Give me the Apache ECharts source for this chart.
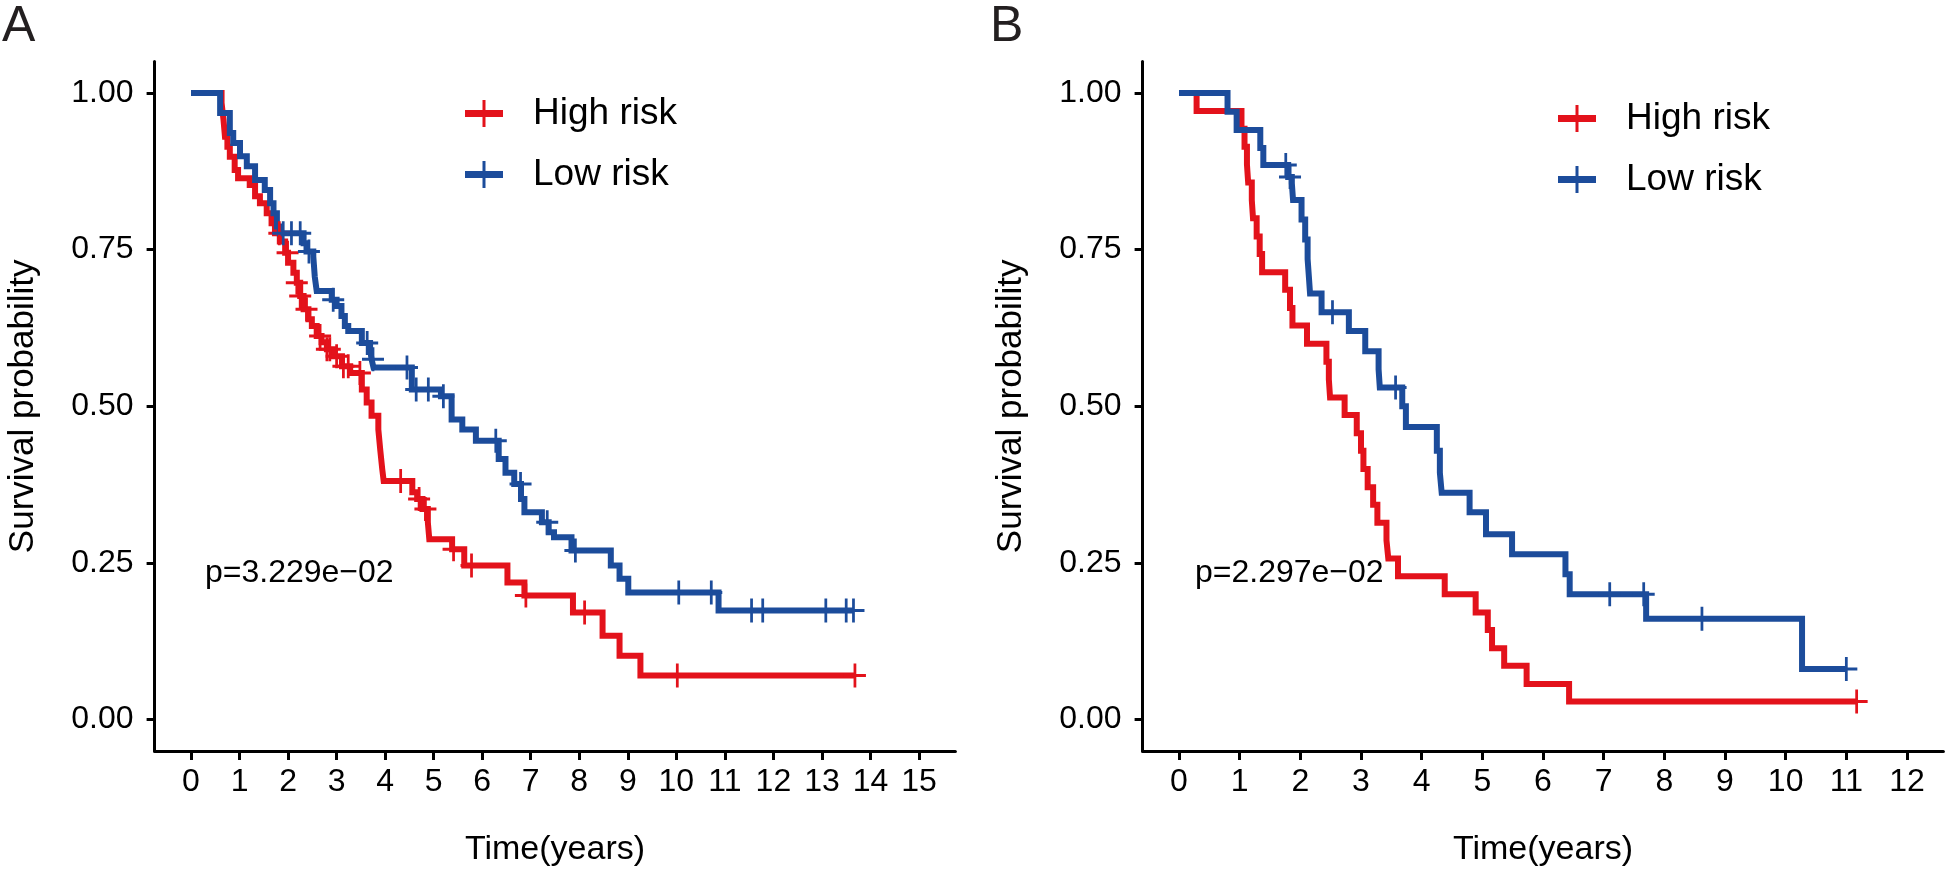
<!DOCTYPE html>
<html>
<head>
<meta charset="utf-8">
<script src="https://cdn.jsdelivr.net/npm/echarts@6/dist/echarts.min.js"></script>
<style>
html,body{margin:0;padding:0;background:#fff;}
#chart{width:1946px;height:872px;}
</style>
</head>
<body>
<div id="chart"></div>
<script>
// ---------- data ----------
const seriesNames = ['High risk', 'Low risk'];
const panelLetters = ['A', 'B'];
const pValues = ['p=3.229e\u221202', 'p=2.297e\u221202'];
const yTicks = [0, 0.25, 0.5, 0.75, 1];
const xTicksA = [0,1,2,3,4,5,6,7,8,9,10,11,12,13,14,15];
const xTicksB = [0,1,2,3,4,5,6,7,8,9,10,11,12];

// Panel A, High risk: [time (years), survival]
const highA = [
  [0,1],[0.63,0.984],[0.67,0.957],[0.70,0.93],[0.75,0.914],[0.80,0.898],[0.90,0.877],
  [0.97,0.864],[1.21,0.853],[1.32,0.835],[1.42,0.824],[1.56,0.808],[1.66,0.792],
  [1.73,0.776],[1.83,0.763],[1.94,0.745],[2.00,0.729],[2.11,0.713],[2.18,0.697],
  [2.25,0.676],[2.32,0.655],[2.42,0.639],[2.49,0.628],[2.59,0.612],[2.69,0.602],
  [2.80,0.591],[2.93,0.580],[3.11,0.564],[3.28,0.553],[3.52,0.527],[3.62,0.506],
  [3.72,0.485],[3.86,0.463],[3.90,0.43],[3.94,0.40],[3.97,0.381],[4.56,0.363],
  [4.66,0.352],[4.77,0.336],[4.88,0.315],[4.91,0.288],[5.38,0.272],[5.63,0.246],
  [6.52,0.219],[6.87,0.198],[7.87,0.171],[8.48,0.134],[8.83,0.102],[9.26,0.0705],
  [13.68,0.0705]
];
const highACensor = [1.82,1.99,2.18,2.25,2.38,2.66,2.80,2.86,3.00,3.14,3.24,3.48,
  4.32,4.70,4.83,5.41,5.78,6.90,8.11,10.02,13.68];

// Panel A, Low risk
const lowA = [
  [0,1],[0.60,0.968],[0.80,0.936],[0.87,0.92],[1.01,0.899],[1.15,0.883],[1.32,0.861],
  [1.52,0.845],[1.63,0.824],[1.70,0.808],[1.77,0.787],[1.83,0.776],[2.32,0.76],
  [2.38,0.747],[2.52,0.739],[2.55,0.707],[2.59,0.684],[2.90,0.670],[3.00,0.66],
  [3.10,0.644],[3.17,0.628],[3.24,0.62],[3.52,0.601],[3.69,0.591],[3.72,0.575],
  [3.76,0.562],[4.55,0.527],[5.15,0.516],[5.37,0.479],[5.59,0.463],[5.87,0.445],
  [6.34,0.416],[6.48,0.394],[6.66,0.376],[6.80,0.352],[6.87,0.331],[7.23,0.315],
  [7.37,0.299],[7.48,0.291],[7.84,0.27],[8.65,0.246],[8.83,0.225],[9.01,0.203],
  [10.87,0.174],[13.65,0.174]
];
const lowACensor = [1.90,2.07,2.25,2.43,2.93,3.63,3.75,4.45,4.64,4.89,5.20,6.28,
  6.79,7.34,7.92,10.05,10.72,11.55,11.78,13.08,13.5,13.65];

// Panel B, High risk
const highB = [
  [0,1],[0.29,0.971],[1.03,0.943],[1.08,0.914],[1.12,0.886],[1.14,0.857],[1.20,0.829],
  [1.22,0.800],[1.28,0.771],[1.33,0.743],[1.37,0.714],[1.75,0.686],[1.83,0.657],
  [1.87,0.629],[2.11,0.600],[2.43,0.571],[2.47,0.543],[2.49,0.514],[2.73,0.486],
  [2.93,0.457],[3.00,0.429],[3.04,0.400],[3.11,0.371],[3.20,0.343],[3.27,0.314],
  [3.42,0.286],[3.45,0.257],[3.61,0.229],[4.38,0.200],[4.89,0.171],[5.09,0.143],
  [5.16,0.114],[5.36,0.086],[5.73,0.057],[6.43,0.029],[11.17,0.029]
];
const highBCensor = [11.17];

// Panel B, Low risk
const lowB = [
  [0,1],[0.80,0.970],[0.95,0.941],[1.34,0.912],[1.39,0.885],[1.80,0.866],[1.86,0.856],
  [1.88,0.829],[2.02,0.798],[2.08,0.766],[2.12,0.735],[2.14,0.708],[2.16,0.680],
  [2.35,0.650],[2.80,0.620],[3.07,0.588],[3.29,0.559],[3.31,0.530],[3.68,0.500],
  [3.74,0.467],[4.25,0.429],[4.30,0.394],[4.33,0.362],[4.79,0.331],[5.06,0.296],
  [5.49,0.264],[6.37,0.232],[6.44,0.200],[7.70,0.161],[10.27,0.081],[11.0,0.081]
];
const lowBCensor = [1.76,1.83,2.53,3.57,7.10,7.66,8.62,11.0];

// ---------- styling ----------
const RED = '#E3121B';
const BLUE = '#1C4C9B';
const FONT = 'Liberation Sans, Arial, sans-serif';
const plusPath = 'path://M10.5,0H13.5V24H10.5Z M0,10.5H24V13.5H0Z';
const legendIcon = 'path://M0,10H38V17H0Z M17.5,0H20.5V27H17.5Z';

function levelAt(curve, t) {
  let s = curve[0][1];
  for (const p of curve) { if (p[0] <= t + 1e-9) s = p[1]; else break; }
  return s;
}
function censorPts(curve, times) { return times.map(t => [t, levelAt(curve, t)]); }

const chart = echarts.init(document.getElementById('chart'), null, {renderer: 'canvas'});

function xAxisCfg(gridIndex, ticks, min, max) {
  return {
    type: 'value', gridIndex, min, max,
    name: 'Time(years)', nameLocation: 'middle', nameGap: 82,
    nameTextStyle: {fontFamily: FONT, fontSize: 34, color: '#000'},
    axisLine: {show: true, onZero: false, lineStyle: {color: '#000', width: 3}},
    axisTick: {show: true, customValues: ticks, length: 9, lineStyle: {color: '#000', width: 3}},
    axisLabel: {show: true, customValues: ticks, margin: 15, fontFamily: FONT, fontSize: 32, color: '#000',
      formatter: v => String(Math.round(v))},
    splitLine: {show: false}
  };
}
function yAxisCfg(gridIndex) {
  return {
    type: 'value', gridIndex, min: -0.05, max: 1.05,
    name: 'Survival probability', nameLocation: 'middle', nameGap: 114, nameRotate: 90,
    nameTextStyle: {fontFamily: FONT, fontSize: 35, color: '#000'},
    axisLine: {show: true, onZero: false, lineStyle: {color: '#000', width: 3}},
    axisTick: {show: true, customValues: yTicks, length: 8, lineStyle: {color: '#000', width: 3}},
    axisLabel: {show: true, customValues: yTicks, margin: 21, fontFamily: FONT, fontSize: 32, color: '#000',
      formatter: v => v.toFixed(2)},
    splitLine: {show: false}
  };
}
function stepSeries(name, data, color, idx) {
  return {
    name, type: 'line', step: 'end', data, xAxisIndex: idx, yAxisIndex: idx,
    showSymbol: false, symbol: 'none', silent: true, animation: false,
    lineStyle: {color, width: 6, join: 'miter', cap: 'butt'}, itemStyle: {color}, z: 2
  };
}
function censorSeries(name, data, color, idx) {
  return {
    name, type: 'scatter', data, xAxisIndex: idx, yAxisIndex: idx,
    symbol: plusPath, symbolSize: [22, 24], symbolKeepAspect: false,
    itemStyle: {color, opacity: 1}, silent: true, animation: false, z: 3
  };
}
function legendCfg(left, top) {
  return {
    orient: 'vertical', left, top, itemWidth: 38, itemHeight: 40, itemGap: 24,
    icon: legendIcon, selectedMode: false,
    data: seriesNames.map(n => ({name: n, icon: legendIcon})),
    textStyle: {fontFamily: FONT, fontSize: 37, color: '#000', padding: [0, 0, 0, 25]}
  };
}

const option = {
  backgroundColor: '#fff',
  animation: false,
  grid: [
    {left: 154.6, top: 61.6, width: 800.8, height: 690.8, containLabel: false},
    {left: 1142.6, top: 61.6, width: 800.8, height: 690.8, containLabel: false}
  ],
  xAxis: [xAxisCfg(0, xTicksA, -0.75, 15.75), xAxisCfg(1, xTicksB, -0.6, 12.6)],
  yAxis: [yAxisCfg(0), yAxisCfg(1)],
  legend: [legendCfg(460, 90), legendCfg(1553, 95)],
  series: [
    stepSeries(seriesNames[0], highA, RED, 0),
    stepSeries(seriesNames[1], lowA, BLUE, 0),
    censorSeries(seriesNames[0], censorPts(highA, highACensor), RED, 0),
    censorSeries(seriesNames[1], censorPts(lowA, lowACensor), BLUE, 0),
    stepSeries(seriesNames[0], highB, RED, 1),
    stepSeries(seriesNames[1], lowB, BLUE, 1),
    censorSeries(seriesNames[0], censorPts(highB, highBCensor), RED, 1),
    censorSeries(seriesNames[1], censorPts(lowB, lowBCensor), BLUE, 1)
  ],
  graphic: [
    {type: 'text', left: 2, top: 2, style: {text: panelLetters[0], font: '50px ' + FONT, fill: '#231F20'}},
    {type: 'text', left: 990, top: 2, style: {text: panelLetters[1], font: '50px ' + FONT, fill: '#231F20'}},
    {type: 'text', left: 205, top: 557, style: {text: pValues[0], font: '32px ' + FONT, fill: '#000'}},
    {type: 'text', left: 1195, top: 557, style: {text: pValues[1], font: '32px ' + FONT, fill: '#000'}}
  ]
};
chart.setOption(option);
</script>
</body>
</html>
